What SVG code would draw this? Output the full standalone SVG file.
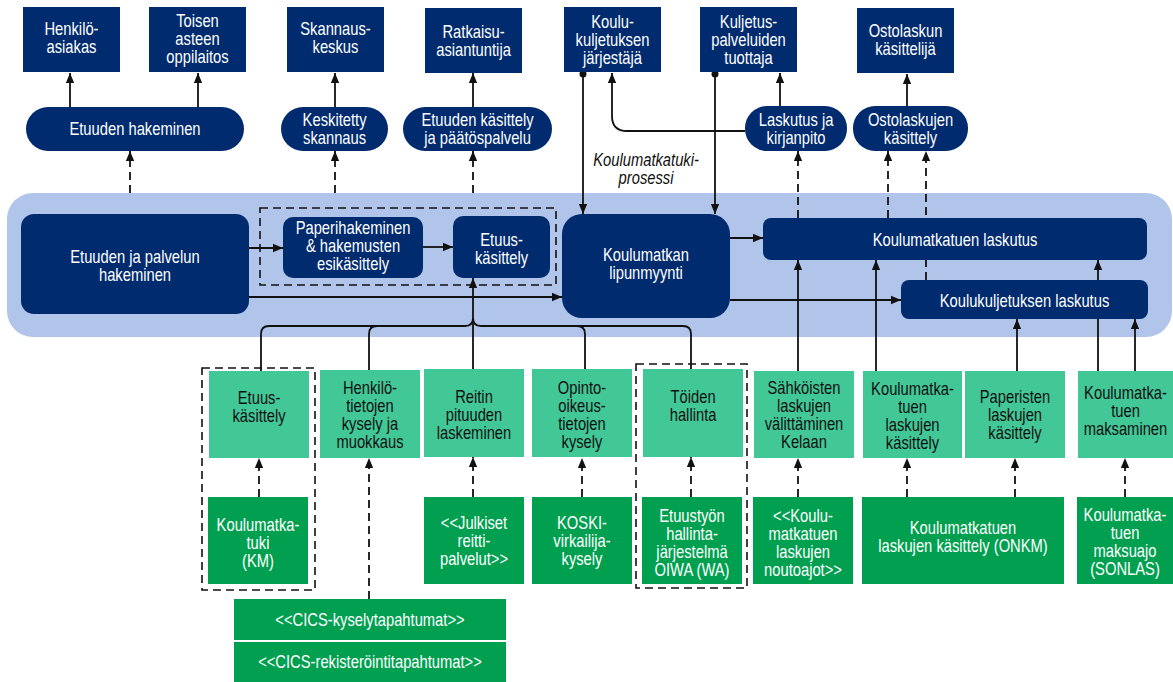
<svg xmlns="http://www.w3.org/2000/svg" width="1173" height="682" viewBox="0 0 1173 682">
<defs>
<marker id="ah" markerWidth="10" markerHeight="14" refX="12" refY="5" orient="auto" markerUnits="userSpaceOnUse" viewBox="0 0 12 10">
<path d="M0,0 L12,5 L0,10 Z" fill="#111"/>
</marker>
<style>
text{font-family:"Liberation Sans",Arial,sans-serif;font-size:18px;text-anchor:middle;transform-box:fill-box;transform-origin:center;transform:scaleX(0.82)}
.n{fill:#002b6e}
.lg{fill:#42c797}
.dg{fill:#00a050}
.w{fill:#fff}
.k{fill:#111}
.ln{fill:none;stroke:#111;stroke-width:1.8}
.ds{fill:none;stroke:#111;stroke-width:1.8;stroke-dasharray:8 5}
.grp{fill:none;stroke:#111;stroke-width:1.6;stroke-dasharray:8 5}
</style>
</defs>
<rect width="1173" height="682" fill="#fff"/>
<rect id="band" x="7" y="193" width="1165" height="144" rx="26" fill="#b1c5ea"/>
<g id="connectors">
<path class="ln" d="M70,107 V73" marker-end="url(#ah)"/>
<path class="ln" d="M198,107 V73" marker-end="url(#ah)"/>
<path class="ln" d="M335,107 V73" marker-end="url(#ah)"/>
<path class="ln" d="M473,107 V73" marker-end="url(#ah)"/>
<path class="ln" d="M780,106 V73" marker-end="url(#ah)"/>
<path class="ln" d="M907,106 V74" marker-end="url(#ah)"/>
<path class="ln" d="M745,131 H627 Q612,131 612,116 V73" marker-end="url(#ah)"/>
<path class="ln" d="M583,73 V214" marker-end="url(#ah)"/>
<path class="ln" d="M715,73 V214" marker-end="url(#ah)"/>
<circle cx="583" cy="74" r="3.5" fill="#111"/>
<circle cx="715" cy="74" r="3.5" fill="#111"/>
<path class="ds" d="M130,193 V151" marker-end="url(#ah)"/>
<path class="ds" d="M335,193 V151" marker-end="url(#ah)"/>
<path class="ds" d="M473,193 V151" marker-end="url(#ah)"/>
<path class="ds" d="M798,218 V151" marker-end="url(#ah)"/>
<path class="ds" d="M888,218 V151" marker-end="url(#ah)"/>
<path class="ds" d="M926,280 V151" marker-end="url(#ah)"/>
<path class="ln" d="M249,248 H283" marker-end="url(#ah)"/>
<path class="ln" d="M423,247 H453" marker-end="url(#ah)"/>
<path class="ln" d="M249,297 H562" marker-end="url(#ah)"/>
<path class="ln" d="M730,238 H763" marker-end="url(#ah)"/>
<path class="ln" d="M730,300 H901" marker-end="url(#ah)"/>
<path class="ln" d="M261,371 V334 Q261,326 269,326 H465 Q473,326 473,318"/>
<path class="ln" d="M369,370 V334 Q369,326 377,326"/>
<path class="ln" d="M691,369 V334 Q691,326 683,326 H481 Q473,326 473,318"/>
<path class="ln" d="M585,369 V334 Q585,326 577,326"/>
<path class="ln" d="M473,369 V278" marker-end="url(#ah)"/>
<path class="ln" d="M798,371 V260" marker-end="url(#ah)"/>
<path class="ln" d="M876,371 V260" marker-end="url(#ah)"/>
<path class="ln" d="M1017,371 V319" marker-end="url(#ah)"/>
<path class="ln" d="M1098,371 V260" marker-end="url(#ah)"/>
<path class="ln" d="M1135,371 V319" marker-end="url(#ah)"/>
<path class="ds" d="M259,497 V458" marker-end="url(#ah)"/>
<path class="ds" d="M473,497 V457" marker-end="url(#ah)"/>
<path class="ds" d="M582,497 V458" marker-end="url(#ah)"/>
<path class="ds" d="M691,497 V457" marker-end="url(#ah)"/>
<path class="ds" d="M798,497 V458" marker-end="url(#ah)"/>
<path class="ds" d="M907,497 V458" marker-end="url(#ah)"/>
<path class="ds" d="M1015,497 V458" marker-end="url(#ah)"/>
<path class="ds" d="M1125,497 V458" marker-end="url(#ah)"/>
<path class="ds" d="M369,599 V458" marker-end="url(#ah)"/>
</g>
<text x="646" y="166" class="k" font-style="italic">Koulumatkatuki-<tspan x="646" dy="18">prosessi</tspan></text>
<g id="henkiloasiakas"><rect class="n" x="23" y="7" width="97" height="65"/><text class="w" x="71.5" y="35">Henkilö-<tspan x="71.5" dy="18">asiakas</tspan></text></g>
<g id="oppilaitos"><rect class="n" x="149" y="7" width="97" height="65"/><text class="w" x="197.5" y="27">Toisen<tspan x="197.5" dy="18">asteen</tspan><tspan x="197.5" dy="18">oppilaitos</tspan></text></g>
<g id="skannauskeskus"><rect class="n" x="287" y="7" width="97" height="65"/><text class="w" x="335.5" y="35">Skannaus-<tspan x="335.5" dy="18">keskus</tspan></text></g>
<g id="ratkaisu"><rect class="n" x="425" y="8" width="97" height="65"/><text class="w" x="473.5" y="38">Ratkaisu-<tspan x="473.5" dy="18">asiantuntija</tspan></text></g>
<g id="jarjestaja"><rect class="n" x="564" y="7" width="97" height="65"/><text class="w" x="612.5" y="28">Koulu-<tspan x="612.5" dy="18">kuljetuksen</tspan><tspan x="612.5" dy="18">järjestäjä</tspan></text></g>
<g id="tuottaja"><rect class="n" x="700" y="7" width="97" height="65"/><text class="w" x="748.5" y="28">Kuljetus-<tspan x="748.5" dy="18">palveluiden</tspan><tspan x="748.5" dy="18">tuottaja</tspan></text></g>
<g id="ostolaskun"><rect class="n" x="857" y="8" width="97" height="65"/><text class="w" x="905.5" y="37">Ostolaskun<tspan x="905.5" dy="18">käsittelijä</tspan></text></g>
<g id="etuudenhakeminen"><rect class="n" x="26" y="107" width="218" height="44" rx="22"/><text class="w" x="135" y="135">Etuuden hakeminen</text></g>
<g id="keskitetty"><rect class="n" x="281" y="107" width="107" height="44" rx="22"/><text class="w" x="334.5" y="126">Keskitetty<tspan x="334.5" dy="18">skannaus</tspan></text></g>
<g id="paatospalvelu"><rect class="n" x="403" y="107" width="149" height="44" rx="22"/><text class="w" x="477.5" y="126">Etuuden käsittely<tspan x="477.5" dy="18">ja päätöspalvelu</tspan></text></g>
<g id="laskutus"><rect class="n" x="745" y="106" width="102" height="45" rx="22"/><text class="w" x="796" y="126">Laskutus ja<tspan x="796" dy="18">kirjanpito</tspan></text></g>
<g id="ostolaskujen"><rect class="n" x="853" y="106" width="115" height="45" rx="22"/><text class="w" x="910.5" y="126">Ostolaskujen<tspan x="910.5" dy="18">käsittely</tspan></text></g>
<g id="etuudenjapalvelun"><rect class="n" x="21" y="214" width="228" height="100" rx="13"/><text class="w" x="135" y="263">Etuuden ja palvelun<tspan x="135" dy="18">hakeminen</tspan></text></g>
<rect class="grp" x="260" y="208" width="296" height="77"/>
<g id="paperihakeminen"><rect class="n" x="283" y="217" width="140" height="61" rx="10"/><text class="w" x="353" y="234">Paperihakeminen<tspan x="353" dy="18">&amp; hakemusten</tspan><tspan x="353" dy="18">esikäsittely</tspan></text></g>
<g id="etuuskasittely"><rect class="n" x="453" y="216" width="97" height="62" rx="10"/><text class="w" x="501.5" y="246">Etuus-<tspan x="501.5" dy="18">käsittely</tspan></text></g>
<g id="lipunmyynti"><rect class="n" x="562" y="214" width="168" height="104" rx="20"/><text class="w" x="646" y="261">Koulumatkan<tspan x="646" dy="18">lipunmyynti</tspan></text></g>
<g id="koulumatkatuenlaskutus"><rect class="n" x="763" y="218" width="384" height="42" rx="8"/><text class="w" x="955" y="246">Koulumatkatuen laskutus</text></g>
<g id="koulukuljetuksenlaskutus"><rect class="n" x="901" y="280" width="247" height="39" rx="8"/><text class="w" x="1024.5" y="307">Koulukuljetuksen laskutus</text></g>
<rect class="grp" x="202" y="368" width="113" height="222"/>
<rect class="grp" x="636" y="364" width="111" height="224"/>
<g id="g-etuus"><rect class="lg" x="209" y="371" width="100" height="87"/><text class="k" x="259" y="404">Etuus-<tspan x="259" dy="18">käsittely</tspan></text></g>
<g id="g-henkilo"><rect class="lg" x="320" y="370" width="100" height="88"/><text class="k" x="370" y="394">Henkilö-<tspan x="370" dy="18">tietojen</tspan><tspan x="370" dy="18">kysely ja</tspan><tspan x="370" dy="18">muokkaus</tspan></text></g>
<g id="g-reitin"><rect class="lg" x="424" y="369" width="100" height="88"/><text class="k" x="474" y="403">Reitin<tspan x="474" dy="18">pituuden</tspan><tspan x="474" dy="18">laskeminen</tspan></text></g>
<g id="g-opinto"><rect class="lg" x="532" y="369" width="100" height="88"/><text class="k" x="582" y="394">Opinto-<tspan x="582" dy="18">oikeus-</tspan><tspan x="582" dy="18">tietojen</tspan><tspan x="582" dy="18">kysely</tspan></text></g>
<g id="g-toiden"><rect class="lg" x="643" y="369" width="100" height="88"/><text class="k" x="693" y="403">Töiden<tspan x="693" dy="18">hallinta</tspan></text></g>
<g id="g-sahkoisten"><rect class="lg" x="754" y="371" width="100" height="87"/><text class="k" x="804" y="394">Sähköisten<tspan x="804" dy="18">laskujen</tspan><tspan x="804" dy="18">välittäminen</tspan><tspan x="804" dy="18">Kelaan</tspan></text></g>
<g id="g-kmlaskujen"><rect class="lg" x="863" y="371" width="99" height="87"/><text class="k" x="912.5" y="395">Koulumatka-<tspan x="912.5" dy="18">tuen</tspan><tspan x="912.5" dy="18">laskujen</tspan><tspan x="912.5" dy="18">käsittely</tspan></text></g>
<g id="g-paperisten"><rect class="lg" x="965" y="371" width="100" height="87"/><text class="k" x="1015" y="403">Paperisten<tspan x="1015" dy="18">laskujen</tspan><tspan x="1015" dy="18">käsittely</tspan></text></g>
<g id="g-maksaminen"><rect class="lg" x="1078" y="371" width="95" height="87"/><text class="k" x="1125.5" y="399">Koulumatka-<tspan x="1125.5" dy="18">tuen</tspan><tspan x="1125.5" dy="18">maksaminen</tspan></text></g>
<g id="s-km"><rect class="dg" x="208" y="497" width="100" height="87"/><text class="w" x="258" y="531">Koulumatka-<tspan x="258" dy="18">tuki</tspan><tspan x="258" dy="18">(KM)</tspan></text></g>
<g id="s-julkiset"><rect class="dg" x="424" y="497" width="100" height="87"/><text class="w" x="474" y="529">&lt;&lt;Julkiset<tspan x="474" dy="18">reitti-</tspan><tspan x="474" dy="18">palvelut&gt;&gt;</tspan></text></g>
<g id="s-koski"><rect class="dg" x="532" y="497" width="100" height="87"/><text class="w" x="582" y="529">KOSKI-<tspan x="582" dy="18">virkailija-</tspan><tspan x="582" dy="18">kysely</tspan></text></g>
<g id="s-oiwa"><rect class="dg" x="642" y="497" width="100" height="87"/><text class="w" x="692" y="522">Etuustyön<tspan x="692" dy="18">hallinta-</tspan><tspan x="692" dy="18">järjestelmä</tspan><tspan x="692" dy="18">OIWA (WA)</tspan></text></g>
<g id="s-noutoajot"><rect class="dg" x="753" y="497" width="100" height="87"/><text class="w" x="803" y="522">&lt;&lt;Koulu-<tspan x="803" dy="18">matkatuen</tspan><tspan x="803" dy="18">laskujen</tspan><tspan x="803" dy="18">noutoajot&gt;&gt;</tspan></text></g>
<g id="s-onkm"><rect class="dg" x="862" y="497" width="202" height="87"/><text class="w" x="963" y="534">Koulumatkatuen<tspan x="963" dy="18">laskujen käsittely (ONKM)</tspan></text></g>
<g id="s-sonlas"><rect class="dg" x="1077" y="497" width="96" height="87"/><text class="w" x="1125" y="521">Koulumatka-<tspan x="1125" dy="18">tuen</tspan><tspan x="1125" dy="18">maksuajo</tspan><tspan x="1125" dy="18">(SONLAS)</tspan></text></g>
<g id="s-cics1"><rect class="dg" x="234" y="599" width="272" height="41"/><text class="w" x="370" y="626">&lt;&lt;CICS-kyselytapahtumat&gt;&gt;</text></g>
<g id="s-cics2"><rect class="dg" x="234" y="642" width="272" height="41"/><text class="w" x="370" y="668">&lt;&lt;CICS-rekisteröintitapahtumat&gt;&gt;</text></g>
</svg>
